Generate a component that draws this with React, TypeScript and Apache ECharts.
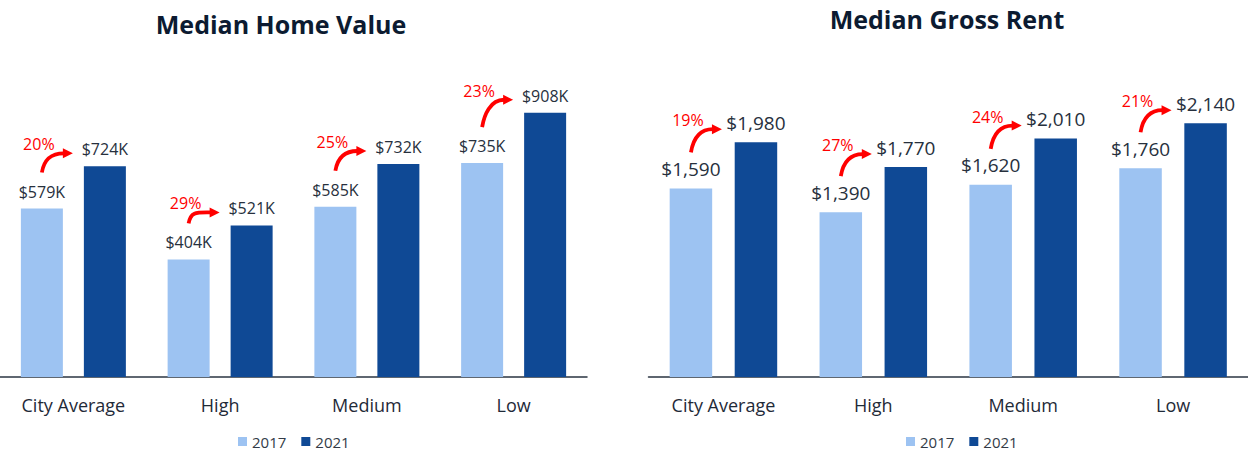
import React, { useEffect, useRef } from "react";
import * as echarts from "echarts";

const categories = ["City Average", "High", "Medium", "Low"];
const homeValue2017 = [579, 404, 585, 735];
const homeValue2021 = [724, 521, 732, 908];
const homeChange = ["20%", "29%", "25%", "23%"];
const rent2017 = [1590, 1390, 1620, 1760];
const rent2021 = [1980, 1770, 2010, 2140];
const rentChange = ["19%", "27%", "24%", "21%"];
const legendNames = ["2017", "2021"];

const LIGHT = "#9dc3f2";
const DARK = "#0f4995";
const RED = "#ff0000";
const TEXT = "#27303d";
const FONT = "'Open Sans', sans-serif";

function makeArrowRenderer(changes: string[], barWidth: number, gapPx: number) {
  return (params: any, api: any) => {
    const idx = api.value(0);
    const p1 = api.coord([idx, api.value(1)]);
    const p2 = api.coord([idx, api.value(2)]);
    const x0 = p1[0] - (barWidth + gapPx) / 2;
    const sx = x0;
    const sy = p1[1] - 36;
    const ex = x0 + 31;
    const ey = p2[1] - 13;
    return {
      type: "group",
      children: [
        {
          type: "bezierCurve",
          shape: { x1: sx, y1: sy, cpx1: sx + 2, cpy1: sy - 12, cpx2: sx + 8, cpy2: ey, x2: ex - 9, y2: ey },
          style: { stroke: RED, lineWidth: 3.8, fill: "none" },
        },
        {
          type: "polygon",
          shape: { points: [[ex, ey], [ex - 10, ey - 5], [ex - 10, ey + 5]] },
          style: { fill: RED },
        },
        {
          type: "text",
          x: x0 - 3,
          y: p2[1] - 22,
          style: {
            text: changes[params.dataIndex],
            fill: RED,
            font: `16px ${FONT}`,
            align: "center",
            verticalAlign: "middle",
          },
        },
      ],
    };
  };
}

export default function App() {
  const ref = useRef<HTMLDivElement>(null);

  useEffect(() => {
    if (!ref.current) return;
    const chart = echarts.init(ref.current, undefined, { renderer: "svg" });

    const homeArrowData = categories.map((_, i) => [i, homeValue2017[i], homeValue2021[i]]);
    const rentArrowData = categories.map((_, i) => [i, rent2017[i], rent2021[i]]);

    const xAxisBase = {
      type: "category" as const,
      data: categories,
      axisTick: { show: false },
      axisLine: { lineStyle: { color: "#2a3442", width: 1.5 } },
      axisLabel: { fontSize: 18, color: "#1f2a38", margin: 19, fontFamily: FONT },
    };

    const valueLabel = (size: number, dist: number, fmt: (v: number) => string) => ({
      show: true,
      position: "top" as const,
      distance: dist,
      fontSize: size,
      color: TEXT,
      fontFamily: FONT,
      formatter: (p: any) => fmt(p.value),
    });

    const homeFmt = (v: number) => `$${v}K`;
    const rentFmt = (v: number) => `$${v.toLocaleString("en-US")}`;

    const legendBase = {
      data: legendNames,
      top: 429,
      icon: "rect",
      itemWidth: 9,
      itemHeight: 9,
      itemGap: 15,
      textStyle: { fontSize: 15, color: "#333b47", fontFamily: FONT },
    };

    chart.setOption({
      animation: false,
      textStyle: { fontFamily: FONT },
      title: [
        {
          text: "Median Home Value",
          left: 276,
          top: 6,
          textAlign: "center",
          textStyle: { fontSize: 25, fontWeight: "bold", color: "#0c1b31", fontFamily: FONT },
        },
        {
          text: "Median Gross Rent",
          left: 942,
          top: 1,
          textAlign: "center",
          textStyle: { fontSize: 25, fontWeight: "bold", color: "#0c1b31", fontFamily: FONT },
        },
      ],
      legend: [
        { ...legendBase, left: 233 },
        { ...legendBase, left: 901 },
      ],
      grid: [
        { left: -2, top: 86, width: 589, height: 291 },
        { left: 648.5, top: 80.5, width: 602, height: 296.5 },
      ],
      xAxis: [
        { ...xAxisBase, gridIndex: 0 },
        { ...xAxisBase, gridIndex: 1 },
      ],
      yAxis: [
        { type: "value", gridIndex: 0, min: 0, max: 1000, show: false, splitLine: { show: false } },
        { type: "value", gridIndex: 1, min: 0, max: 2500, show: false, splitLine: { show: false } },
      ],
      series: [
        {
          name: "2017",
          type: "bar",
          xAxisIndex: 0,
          yAxisIndex: 0,
          data: homeValue2017,
          barWidth: 42,
          barGap: "50%",
          itemStyle: { color: LIGHT },
          label: valueLabel(16, 9, homeFmt),
        },
        {
          name: "2021",
          type: "bar",
          xAxisIndex: 0,
          yAxisIndex: 0,
          data: homeValue2021,
          barWidth: 42,
          barGap: "50%",
          itemStyle: { color: DARK },
          label: valueLabel(16, 9, homeFmt),
        },
        {
          name: "2017",
          type: "bar",
          xAxisIndex: 1,
          yAxisIndex: 1,
          data: rent2017,
          barWidth: 42.5,
          barGap: "53%",
          itemStyle: { color: LIGHT },
          label: valueLabel(19, 10, rentFmt),
        },
        {
          name: "2021",
          type: "bar",
          xAxisIndex: 1,
          yAxisIndex: 1,
          data: rent2021,
          barWidth: 42.5,
          barGap: "53%",
          itemStyle: { color: DARK },
          label: valueLabel(19, 10, rentFmt),
        },
        {
          type: "custom",
          xAxisIndex: 0,
          yAxisIndex: 0,
          silent: true,
          clip: false,
          z: 5,
          encode: { x: 0, y: [1, 2] },
          data: homeArrowData,
          renderItem: makeArrowRenderer(homeChange, 42, 21),
        },
        {
          type: "custom",
          xAxisIndex: 1,
          yAxisIndex: 1,
          silent: true,
          clip: false,
          z: 5,
          encode: { x: 0, y: [1, 2] },
          data: rentArrowData,
          renderItem: makeArrowRenderer(rentChange, 42.5, 22.5),
        },
      ],
    });

    return () => chart.dispose();
  }, []);

  return (
    <div
      ref={ref}
      style={{ position: "absolute", left: 0, top: 0, width: 1248, height: 453, background: "#ffffff" }}
    />
  );
}
